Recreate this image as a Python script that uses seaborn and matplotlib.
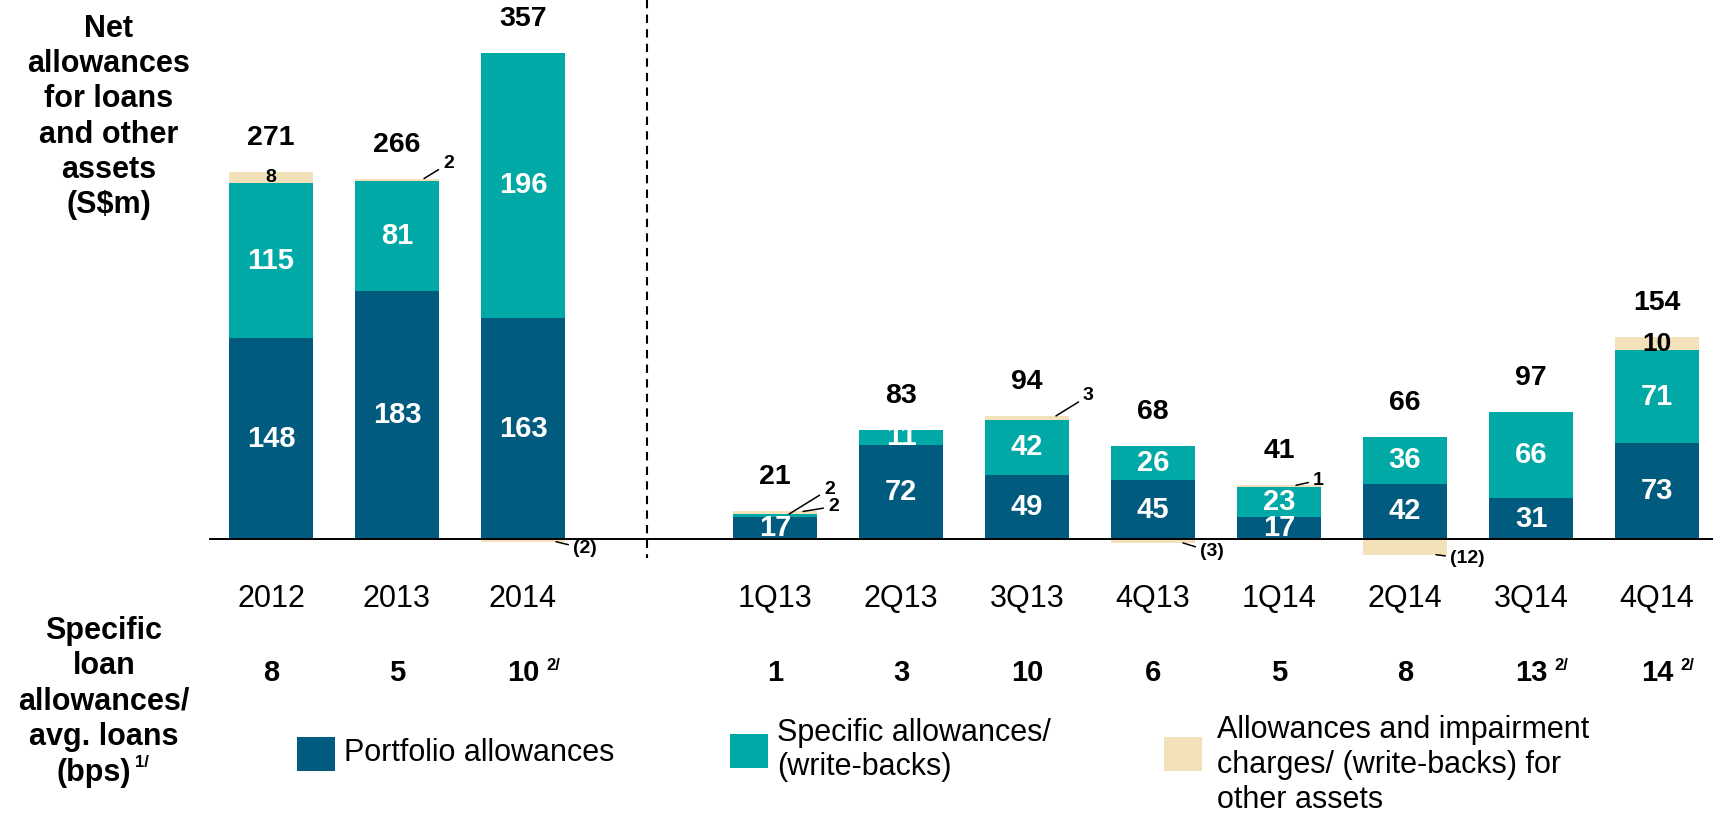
import numpy as np
import pandas as pd
import matplotlib
matplotlib.use("Agg")
import matplotlib.pyplot as plt
from matplotlib.patches import Rectangle
from matplotlib.lines import Line2D
import seaborn as sns

# ---- data (S$m) ----
years = ["2012", "2013", "2014"]
year_portfolio = [148, 183, 163]
year_specific = [115, 81, 196]
year_other = [8, 2, -2]
year_bps = ["8", "5", "10"]
year_note = [False, False, True]

quarters = ["1Q13", "2Q13", "3Q13", "4Q13", "1Q14", "2Q14", "3Q14", "4Q14"]
q_portfolio = [17, 72, 49, 45, 17, 42, 31, 73]
q_specific = [2, 11, 42, 26, 23, 36, 66, 71]
q_other = [2, 0, 3, -3, 1, -12, 0, 10]
q_bps = ["1", "3", "10", "6", "5", "8", "13", "14"]
q_note = [False, False, False, False, False, False, True, True]

DARK = "#005b7e"
TEAL = "#00a9a6"
TAN = "#f2e1b9"

W, H = 1713, 813
BASE = 539        # pixel row of the zero line
AX_BOTTOM = 558   # pixel row of the axes bottom
SLOT = 126        # pixels per category

sns.set_theme(style="white")
plt.rcParams["font.family"] = ["Liberation Sans", "DejaVu Sans"]
plt.rcParams["text.color"] = "black"
plt.rcParams["xtick.color"] = "black"
plt.rcParams["xtick.labelcolor"] = "black"

fig = plt.figure(figsize=(W / 100, H / 100), dpi=100)


def fx(x):
    return x / W


def fy(y):
    return 1 - y / H


def fmt(v):
    return f"({-v})" if v < 0 else str(v)


def draw_panel(ax, cats, portfolio, specific, other, ppu, left_px, right_px, first_px):
    df = pd.DataFrame({"cat": cats, "portfolio": portfolio,
                       "specific": specific, "other": other})
    df["ps"] = df["portfolio"] + df["specific"]
    df["top"] = df["ps"] + df["other"].clip(lower=0)
    df["neg"] = df["other"].clip(upper=0)
    for col, color in [("top", TAN), ("ps", TEAL), ("portfolio", DARK), ("neg", TAN)]:
        sns.barplot(data=df, x="cat", y=col, color=color, saturation=1,
                    width=0.667, errorbar=None, linewidth=0, ax=ax)
    ax.set_xlim((left_px - first_px) / SLOT, (right_px - first_px) / SLOT)
    ax.set_ylim(-(AX_BOTTOM - BASE) / ppu, BASE / ppu)
    ax.axhline(0, color="black", lw=1.4)
    ax.set_xlabel("")
    ax.set_ylabel("")
    ax.set_yticks([])
    ax.tick_params(axis="x", length=0, pad=19, labelsize=22, labelcolor="black")
    sns.despine(ax=ax, left=True, bottom=True)

    for i, row in df.iterrows():
        # total above the bar
        total = row["portfolio"] + row["specific"] + row["other"]
        ax.annotate(str(total), xy=(i, row["top"]), xytext=(0, 34),
                    textcoords="offset pixels", ha="center", va="center",
                    fontsize=20.5, fontweight="bold", color="black")
        ax.text(i, row["portfolio"] / 2, str(row["portfolio"]), ha="center",
                va="center", color="white", fontsize=21, fontweight="bold")
        if row["specific"] >= 10:
            ax.text(i, row["portfolio"] + row["specific"] / 2, str(row["specific"]),
                    ha="center", va="center", color="white", fontsize=21,
                    fontweight="bold")
        if row["other"] >= 8:
            ax.text(i, row["ps"] + row["other"] / 2, str(row["other"]),
                    ha="center", va="center", color="black",
                    fontsize=14 if row["other"] < 10 else 19, fontweight="bold")
    return df


def leaders(ax, specs):
    # (index, y value of anchor, anchor dx px, text dx px, text dy px, label)
    for i, yv, adx, tdx, tdy, lab in specs:
        ax.annotate(lab, xy=(i + adx / SLOT, yv), xytext=(tdx, tdy),
                    textcoords="offset pixels", ha="left", va="center",
                    fontsize=14, fontweight="bold", color="black",
                    arrowprops=dict(arrowstyle="-", color="black", lw=1.1,
                                    shrinkA=1, shrinkB=0))


def bps_row(ax, values, notes):
    for i, (v, n) in enumerate(zip(values, notes)):
        t = ax.annotate(v, xy=(i, H - 673), xycoords=("data", "figure pixels"),
                        ha="center", va="center", fontsize=21, fontweight="bold")
        if n:
            ax.annotate("2/", xy=(1, 1), xycoords=t, xytext=(7, -6),
                        textcoords="offset pixels", ha="left", va="center",
                        fontsize=12, fontweight="bold")


ax_y = fig.add_axes([fx(209), fy(AX_BOTTOM), fx(647 - 209), AX_BOTTOM / H])
ax_q = fig.add_axes([fx(647), fy(AX_BOTTOM), fx(W - 647), AX_BOTTOM / H])

draw_panel(ax_y, years, year_portfolio, year_specific, year_other, 1.355, 209, 647, 271)
draw_panel(ax_q, quarters, q_portfolio, q_specific, q_other, 1.31, 647, W, 775)

leaders(ax_y, [(1, 266, 27, 19, 15, fmt(year_other[1])),
               (2, -2, 33, 17, -7, fmt(year_other[2]))])
leaders(ax_q, [(0, 19, 14, 35, 25, fmt(q_specific[0])),
               (0, 21, 28, 25, 5, fmt(q_other[0])),
               (2, 94, 29, 27, 20, fmt(q_other[2])),
               (3, -3, 30, 17, -9, fmt(q_other[3])),
               (4, 41, 17, 17, 5, fmt(q_other[4])),
               (5, -12, 31, 14, -4, fmt(q_other[5]))])

bps_row(ax_y, year_bps, year_note)
bps_row(ax_q, q_bps, q_note)

# dashed divider between annual and quarterly bars
fig.add_artist(Line2D([fx(647), fx(647)], [fy(0), fy(AX_BOTTOM)],
                      transform=fig.transFigure, color="black", lw=1.5,
                      ls=(0, (4, 3))))

# row headings
fig.text(fx(109), fy(117), "Net\nallowances\nfor loans\nand other\nassets\n(S$m)",
         ha="center", va="center", fontsize=22, fontweight="bold", linespacing=1.22)
fig.text(fx(104), fy(684), "Specific\nloan\nallowances/\navg. loans",
         ha="center", va="center", fontsize=22, fontweight="bold", linespacing=1.22)
fig.text(fx(94), fy(773), "(bps)", ha="center", va="center",
         fontsize=22, fontweight="bold")
fig.text(fx(135), fy(762), "1/", ha="left", va="center", fontsize=12, fontweight="bold")

# legend
legend_items = [
    (DARK, 297, 737, 344, 753, "Portfolio allowances"),
    (TEAL, 730, 734, 777, 750, "Specific allowances/\n(write-backs)"),
    (TAN, 1164, 737, 1217, 765, "Allowances and impairment\ncharges/ (write-backs) for\nother assets"),
]
for color, sx, sy, tx, ty, lab in legend_items:
    fig.add_artist(Rectangle((fx(sx), fy(sy + 34)), fx(38), 34 / H,
                             transform=fig.transFigure, color=color, lw=0))
    fig.text(fx(tx), fy(ty), lab, ha="left", va="center", fontsize=22,
             linespacing=1.2)

fig.savefig("out.png", dpi=100)
